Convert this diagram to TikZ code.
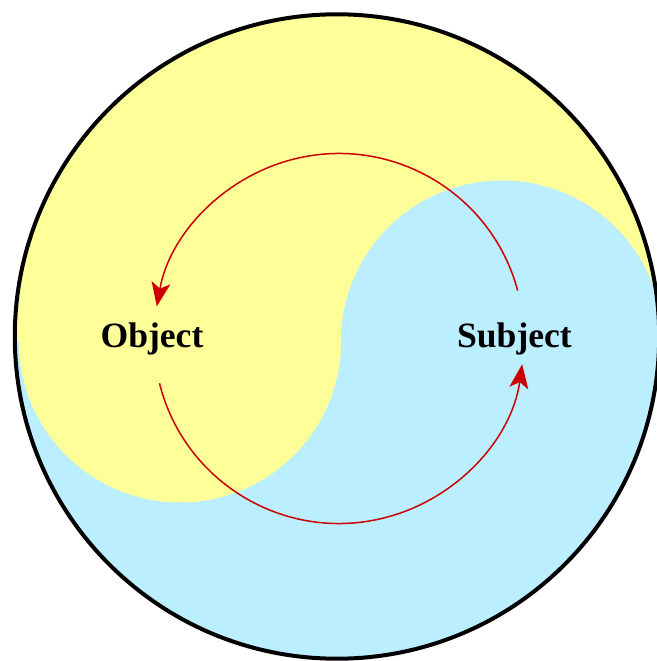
\documentclass[tikz,border=0pt]{standalone}
\usepackage{fontspec}
\setmainfont{Liberation Serif}
\usetikzlibrary{arrows.meta}
\definecolor{yinyel}{RGB}{255,255,153}
\definecolor{yinblu}{RGB}{187,238,255}
\definecolor{flowred}{RGB}{204,0,0}
\tikzset{
  lbl/.style={font=\fontsize{17.8}{20}\selectfont\bfseries, anchor=base, inner sep=0pt},
  flow/.style={draw=flowred, line width=0.75pt, -{Stealth[length=12pt,width=9.5pt,inset=3pt]}},
}
\begin{document}
\begin{tikzpicture}[x=0.5pt,y=0.5pt]
\useasboundingbox (0,0) rectangle (657,661);
\clip (0,0) rectangle (657,661);
\coordinate (c) at (337,324.5);
% blue disc
\fill[yinblu] (c) circle[radius=161.1pt];
\begin{scope}
  \clip (c) circle[radius=161.1pt];
  \fill[yinyel] (0,319.5) rectangle (661,661);
  \fill[yinyel] (180,319.5) circle[radius=80.5pt];
  \fill[yinblu] (341,319.5) arc[start angle=180,end angle=0,radius=80.5pt]
    -- (663,316) -- (341,316) -- cycle;
\end{scope}
% outline
\draw[line width=2pt] (c) circle[radius=161.1pt];
% labels
\node[lbl] (obj) at (152,314) {Object};
\node[lbl] (subj) at (514.5,314) {Subject};
% flow arcs
\coordinate (rc) at (339,322.5);
\draw[flow] (rc) ++(15:92.5pt) arc[start angle=15,end angle=170,radius=92.5pt];
\draw[flow] (rc) ++(194:92.5pt) arc[start angle=194,end angle=352,radius=92.5pt];
\end{tikzpicture}
\end{document}
